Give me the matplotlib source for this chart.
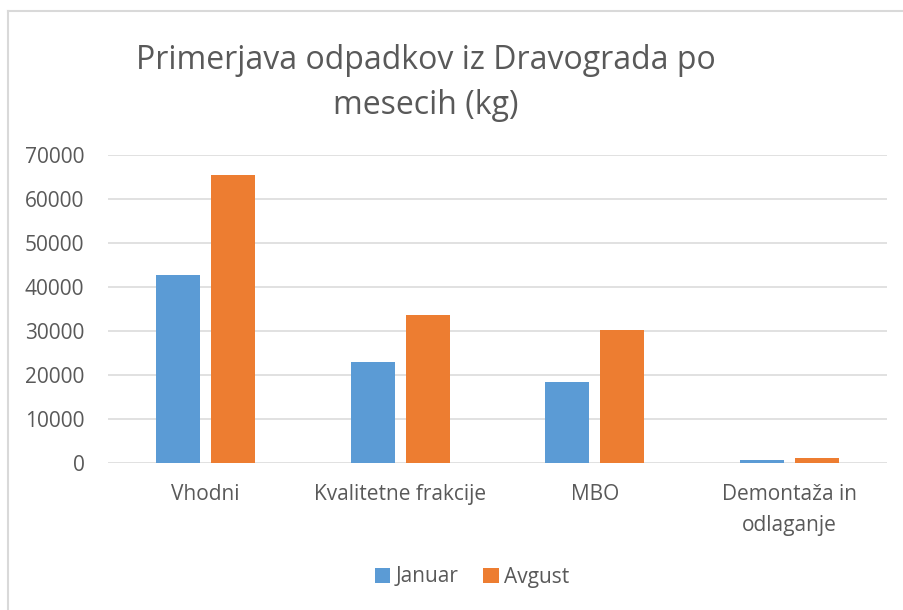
import numpy as np
import matplotlib
matplotlib.use('Agg')
import matplotlib.pyplot as plt
from matplotlib.lines import Line2D

categories = ['Vhodni', 'Kvalitetne frakcije', 'MBO', 'Demontaža in\nodlaganje']
januar = [42700, 22800, 18300, 600]
avgust = [65400, 33500, 30200, 1000]
series_names = ['Januar', 'Avgust']
yticks = [0, 10000, 20000, 30000, 40000, 50000, 60000, 70000]

blue = '#5B9BD5'
orange = '#ED7D31'
text_col = '#595959'
grid_col = '#D9D9D9'

plt.rcParams['font.family'] = ['Open Sans', 'DejaVu Sans']

fig = plt.figure(figsize=(9.04, 6.10), dpi=100)
ax = fig.add_axes([108 / 904, 1 - 462.7 / 610, (887 - 108) / 904, (462.7 - 155) / 610])

x = np.arange(len(categories))
w = 0.226
off = 0.141
ax.bar(x - off, januar, width=w, color=blue, label=series_names[0], zorder=3)
ax.bar(x + off, avgust, width=w, color=orange, label=series_names[1], zorder=3)

ax.set_xlim(-0.5, len(categories) - 0.5)
ax.set_ylim(0, 70000)
ax.set_yticks(yticks)
ax.set_yticklabels([str(t) for t in yticks])
ax.set_xticks(x)
ax.set_xticklabels(categories, linespacing=1.6)

ax.grid(axis='y', color=grid_col, linewidth=1.1, zorder=0)
for s in ax.spines.values():
    s.set_visible(False)
ax.tick_params(axis='y', length=0, pad=17, labelsize=15, labelcolor=text_col)
ax.tick_params(axis='x', length=0, pad=15.5, labelsize=15, labelcolor=text_col)

fig.text(426 / 904, 1 - 83 / 610, 'Primerjava odpadkov iz Dravograda po\nmesecih (kg)',
         ha='center', va='center', fontsize=23, color=text_col, linespacing=1.5)

fig.legend(loc='center', bbox_to_anchor=(472 / 904, 1 - 577 / 610), ncol=2, frameon=False,
           fontsize=15, labelcolor=text_col, handlelength=0.75, handleheight=0.75,
           handletextpad=0.25, columnspacing=1.2)

# chart border (left and top visible)
fig.add_artist(Line2D([7.5 / 904, 7.5 / 904], [0, 1 - 11 / 610], transform=fig.transFigure,
                      color=grid_col, linewidth=1.5))
fig.add_artist(Line2D([7.5 / 904, 1], [1 - 11 / 610, 1 - 11 / 610], transform=fig.transFigure,
                      color=grid_col, linewidth=1.5))

fig.savefig('out.png', dpi=100)
